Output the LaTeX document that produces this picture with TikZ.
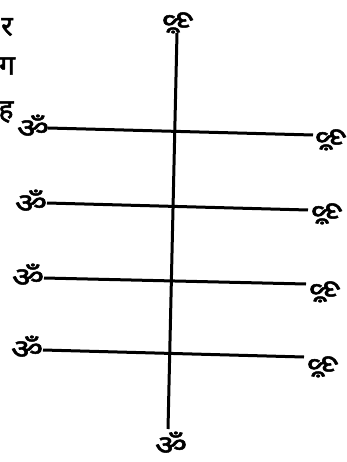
\documentclass[tikz,border=0pt]{standalone}
\usepackage{fontspec}
\newfontfamily\deva[Script=Devanagari,FakeBold=1.8]{Noto Sans}
\begin{document}
\begin{tikzpicture}[x=1pt,y=-1pt,
  glyph/.style={font=\deva\fontsize{27}{27}\selectfont, inner sep=0pt, text=black, xscale=1.3},
  rglyph/.style={glyph, rotate=180},
  edgechar/.style={font=\deva\fontsize{28}{28}\selectfont, inner sep=0pt, text=black},
  rule/.style={line width=3pt, black}]
\useasboundingbox (0,0) rectangle (347,462);
\fill[white] (0,0) rectangle (347,462);
\node[edgechar] (e1) at (7,27) {र};
\node[edgechar] (e2) at (7,66) {ग};
\node[edgechar] (e3) at (6,112) {ह};
% vertical axis
\node[rglyph] (top) at (178,22) {ॐ};
\node[glyph] (bot) at (171,443) {ॐ};
\coordinate (vt) at (177,33);
\coordinate (vb) at (168,429);
\draw[rule] (vt) -- (vb);
% horizontal rules
\node[glyph] (l1) at (33,126) {ॐ};
\node[glyph] (l2) at (31,201) {ॐ};
\node[glyph] (l3) at (28,275) {ॐ};
\node[glyph] (l4) at (27,347) {ॐ};
\node[rglyph] (r1) at (331,139) {ॐ};
\node[rglyph] (r2) at (327,213) {ॐ};
\node[rglyph] (r3) at (325,291) {ॐ};
\node[rglyph] (r4) at (323,366) {ॐ};
\coordinate (a1) at (48,128); \coordinate (b1) at (313,135);
\coordinate (a2) at (47,203); \coordinate (b2) at (308,210);
\coordinate (a3) at (44,278); \coordinate (b3) at (306,284);
\coordinate (a4) at (43,350); \coordinate (b4) at (304,357);
\draw[rule] (a1) -- (b1);
\draw[rule] (a2) -- (b2);
\draw[rule] (a3) -- (b3);
\draw[rule] (a4) -- (b4);
\end{tikzpicture}
\end{document}
